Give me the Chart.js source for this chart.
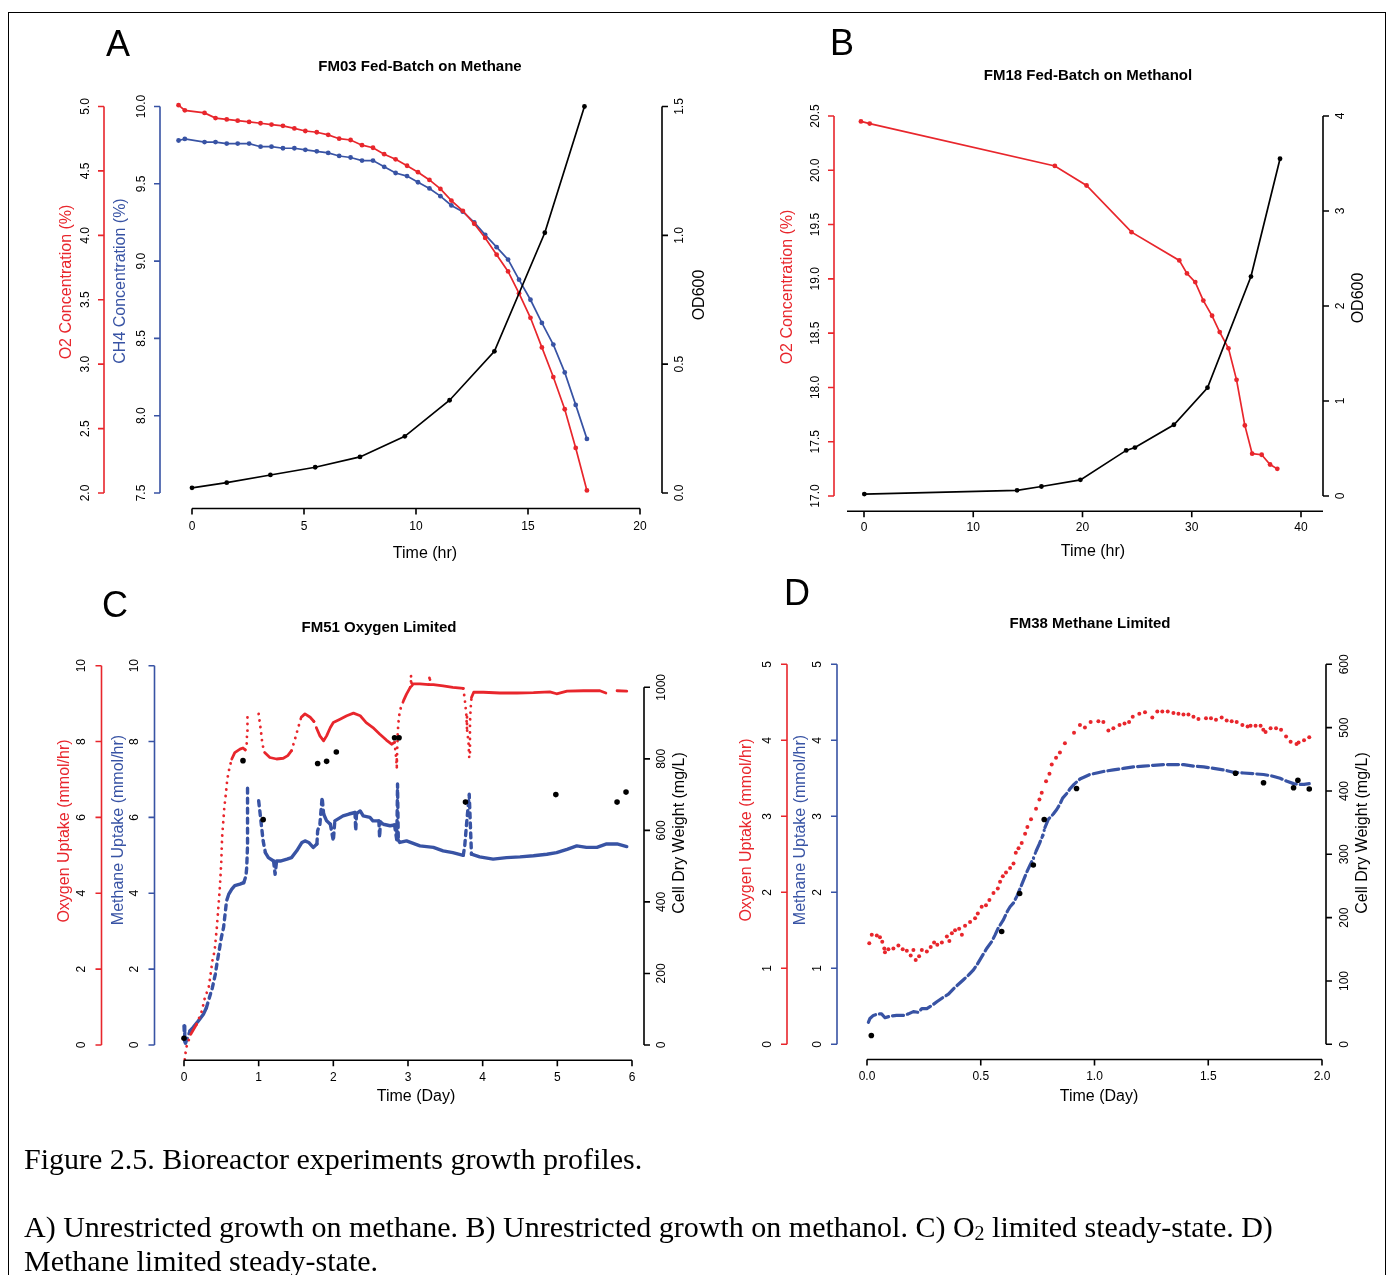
<!DOCTYPE html>
<html>
<head>
<meta charset="utf-8">
<script src="https://cdn.jsdelivr.net/npm/chart.js@4.4.0/dist/chart.umd.min.js"></script>
<style>
  html, body { margin: 0; padding: 0; background: #fff; }
  body { width: 1393px; height: 1275px; position: relative; overflow: hidden; }
  canvas { position: absolute; left: 0; top: 0; }
  #frame { position: absolute; left: 8px; top: 12px; width: 1378px; height: 1320px;
           border: 1.5px solid #000; box-sizing: border-box; }
  .cap { position: absolute; left: 24px; font-family: "Liberation Serif", "Times New Roman", serif;
         font-size: 30px; line-height: 30px; color: #000; white-space: nowrap; }
  .cap sub { font-size: 20px; vertical-align: -3px; line-height: 0; }
</style>
</head>
<body>
<div id="frame"></div>
<canvas id="cA" width="1393" height="1275"></canvas>
<canvas id="cB" width="1393" height="1275"></canvas>
<canvas id="cC" width="1393" height="1275"></canvas>
<canvas id="cD" width="1393" height="1275"></canvas>
<div class="cap" style="top:1144px">Figure 2.5. Bioreactor experiments growth profiles.</div>
<div class="cap" style="top:1212px">A) Unrestricted growth on methane. B) Unrestricted growth on methanol. C) O<sub>2</sub> limited steady-state. D)</div>
<div class="cap" style="top:1246px">Methane limited steady-state.</div>

<script>
// ---------- data ----------

// A: FM03 fed-batch on methane (hours)
const aGasHr = [-0.60,-0.32,0.56,1.05,1.55,2.04,2.55,3.06,3.55,4.06,4.57,5.06,5.57,6.08,6.57,7.08,7.59,8.08,8.58,
                9.09,9.60,10.09,10.60,11.09,11.58,12.09,12.60,13.09,13.60,14.11,14.60,15.11,15.62,16.13,16.64,17.13,17.63];
const aO2 = [5.01,4.97,4.95,4.91,4.90,4.89,4.88,4.87,4.86,4.85,4.83,4.81,4.80,4.78,4.75,4.74,4.70,4.68,4.63,
             4.59,4.54,4.49,4.43,4.36,4.27,4.19,4.09,3.98,3.85,3.72,3.55,3.36,3.13,2.90,2.65,2.35,2.02];
const aCH4 = [9.78,9.79,9.77,9.77,9.76,9.76,9.76,9.74,9.74,9.73,9.73,9.72,9.71,9.70,9.68,9.67,9.65,9.65,9.61,
              9.57,9.55,9.51,9.47,9.42,9.36,9.32,9.25,9.17,9.09,9.01,8.88,8.75,8.60,8.46,8.28,8.07,7.85];
const aOdHr = [0,1.55,3.5,5.5,7.5,9.5,11.5,13.5,15.75,17.52];
const aOd = [0.02,0.04,0.07,0.10,0.14,0.22,0.36,0.55,1.01,1.50];

// B: FM18 fed-batch on methanol (hours)
const bO2Hr = [-0.28,0.52,17.47,20.37,24.49,28.86,29.56,30.32,31.06,31.86,32.56,33.36,34.10,34.86,35.53,36.40,37.17,37.83];
const bO2 = [20.45,20.43,20.04,19.86,19.43,19.17,19.05,18.97,18.80,18.66,18.51,18.36,18.07,17.65,17.39,17.38,17.29,17.25];
const bOdHr = [0.03,14.01,16.24,19.81,24.00,24.80,28.37,31.44,35.42,38.08];
const bOd = [0.02,0.06,0.10,0.17,0.48,0.51,0.75,1.14,2.31,3.55];

// C: FM51 oxygen limited (days); null = logging gap
const cO2Day = [0.01,0.03,0.09,0.17,0.24,0.28,0.33,0.35,0.38,0.41,
                0.44,0.46,0.48,0.50,0.51,0.54,0.56,0.58,0.61,0.64,
                0.68,0.75,0.79,0.82,0.84,0.845,0.85,0.92,1.00,1.03,
                1.05,1.08,1.15,1.24,1.33,1.39,1.44,1.48,1.53,1.57,
                1.62,1.69,1.74,1.78,1.82,1.87,1.91,1.96,2.00,2.09,
                2.18,2.27,2.36,2.44,2.53,2.62,2.71,2.78,2.82,2.84,
                2.85,2.86,2.87,2.89,2.94,2.98,3.03,3.04,3.05,3.07,
                3.16,3.28,3.29,3.30,3.34,3.47,3.60,3.74,3.76,3.78,
                3.79,3.81,3.82,3.83,3.84,3.85,3.88,4.01,4.23,4.46,
                4.68,4.90,4.99,5.13,5.35,5.57,5.65,5.72,5.80,5.93];
const cO2 = [-0.38,-0.07,0.28,0.55,0.90,1.25,1.51,1.78,2.22,2.48,
             3.10,3.62,4.15,4.85,5.47,6.26,6.61,7.01,7.32,7.54,
             7.71,7.80,7.83,7.78,7.93,8.28,8.73,null,8.73,8.28,
             7.93,7.71,7.58,7.54,7.56,7.63,7.76,8.02,8.37,8.64,
             8.73,8.64,8.53,8.33,8.15,8.02,8.15,8.37,8.50,8.59,
             8.68,8.75,8.68,8.50,8.37,8.20,8.04,7.93,7.98,7.60,
             7.32,8.10,8.46,8.81,9.08,9.25,9.43,9.74,9.47,9.52,
             9.52,9.50,9.74,9.50,9.50,9.47,9.43,9.40,9.12,8.73,
             8.33,7.98,7.58,8.50,8.90,9.16,9.30,9.30,9.28,9.28,
             9.29,9.31,9.26,9.33,9.34,9.34,9.28,null,9.34,9.33];
const cCH4Day = [0.00,0.01,0.02,0.08,0.12,0.19,0.26,0.30,0.34,0.38,
                 0.42,0.44,0.47,0.50,0.53,0.55,0.57,0.60,0.64,0.68,
                 0.75,0.80,0.83,0.84,0.85,0.851,0.92,1.00,1.02,1.04,
                 1.06,1.09,1.13,1.20,1.22,1.24,1.29,1.38,1.44,1.51,
                 1.58,1.62,1.67,1.73,1.78,1.79,1.82,1.85,1.87,1.91,
                 1.96,2.00,2.02,2.13,2.21,2.29,2.30,2.31,2.36,2.40,
                 2.49,2.53,2.61,2.62,2.63,2.67,2.76,2.82,2.85,2.86,
                 2.87,2.89,2.98,3.16,3.34,3.47,3.60,3.74,3.76,3.78,
                 3.80,3.82,3.85,3.96,4.14,4.32,4.50,4.68,4.86,4.99,
                 5.13,5.26,5.39,5.53,5.66,5.80,5.93];
const cCH4 = [0.50,0.10,0.05,0.37,0.46,0.63,0.81,0.98,1.25,1.51,
              1.87,2.13,2.48,2.83,3.10,3.45,3.80,3.98,4.11,4.20,
              4.24,4.28,4.46,4.68,5.21,6.78,null,6.44,6.09,5.73,
              5.38,5.07,4.94,4.85,4.50,4.85,4.85,4.90,4.94,5.12,
              5.34,5.38,5.34,5.21,5.30,5.65,5.82,6.53,6.09,5.91,
              5.82,5.38,5.91,6.04,6.09,6.13,5.65,6.10,6.17,6.04,
              6.00,5.91,5.91,5.47,5.88,5.82,5.78,5.80,5.40,6.88,
              5.40,5.34,5.38,5.25,5.21,5.12,5.07,5.00,5.25,5.73,
              6.17,6.61,5.03,4.96,4.90,4.94,4.96,4.99,5.03,5.07,
              5.16,5.25,5.21,5.21,5.30,5.30,5.23];
const cCdwDay = [0.00,0.79,1.06,1.79,1.91,2.04,2.82,2.88,3.77,4.98,5.80,5.92];
const cCdw = [19,795,630,787,793,819,859,859,679,700,679,707];

// D: FM38 methane limited (days)
const dO2Day = [0.010,0.021,0.043,0.057,0.067,0.076,0.079,0.094,0.116,0.138,
                0.157,0.175,0.192,0.204,0.214,0.229,0.241,0.263,0.280,0.295,
                0.309,0.329,0.351,0.362,0.373,0.387,0.405,0.417,0.431,0.453,
                0.475,0.487,0.504,0.523,0.538,0.556,0.575,0.585,0.597,0.611,
                0.629,0.644,0.654,0.666,0.680,0.695,0.705,0.721,0.743,0.758,
                0.768,0.787,0.802,0.812,0.831,0.848,0.870,0.910,0.936,0.958,
                0.983,1.017,1.039,1.061,1.083,1.110,1.132,1.152,1.168,1.197,
                1.222,1.254,1.276,1.298,1.322,1.347,1.369,1.391,1.413,1.435,
                1.457,1.490,1.512,1.534,1.559,1.581,1.603,1.625,1.650,1.673,
                1.686,1.708,1.730,1.742,1.752,1.774,1.798,1.820,1.842,1.862,
                1.888,1.897,1.921,1.944];
const dO2 = [1.33,1.44,1.43,1.41,1.35,1.26,1.21,1.25,1.26,1.30,
             1.25,1.23,1.17,1.24,1.11,1.16,1.24,1.22,1.28,1.34,
             1.31,1.34,1.42,1.36,1.46,1.50,1.52,1.44,1.56,1.61,
             1.66,1.72,1.81,1.83,1.90,1.99,2.05,2.14,2.21,2.26,
             2.32,2.38,2.52,2.58,2.65,2.77,2.86,2.96,3.10,3.22,
             3.31,3.46,3.56,3.68,3.77,3.84,3.96,4.10,4.20,4.17,
             4.24,4.25,4.24,4.13,4.16,4.20,4.22,4.24,4.31,4.35,
             4.37,4.30,4.38,4.38,4.38,4.36,4.35,4.34,4.34,4.31,
             4.28,4.29,4.29,4.27,4.30,4.26,4.25,4.24,4.20,4.18,
             4.19,4.19,4.19,4.14,4.11,4.16,4.16,4.14,4.05,3.98,
             3.95,3.97,4.00,4.04];
const dCH4Day = [0.006,0.013,0.028,0.050,0.064,0.079,0.101,0.130,0.160,0.182,
                 0.204,0.226,0.241,0.263,0.285,0.307,0.336,0.358,0.380,0.402,
                 0.424,0.446,0.468,0.482,0.504,0.526,0.548,0.563,0.577,0.600,
                 0.617,0.629,0.644,0.659,0.673,0.688,0.703,0.717,0.732,0.743,
                 0.758,0.773,0.782,0.797,0.819,0.834,0.848,0.860,0.878,0.892,
                 0.910,0.936,0.958,0.980,1.010,1.039,1.083,1.127,1.171,1.215,
                 1.259,1.303,1.347,1.392,1.436,1.480,1.524,1.567,1.611,1.655,
                 1.699,1.743,1.780,1.816,1.846,1.875,1.897,1.921,1.944];
const dCH4 = [0.29,0.34,0.38,0.40,0.40,0.35,0.37,0.38,0.38,0.40,
              0.43,0.42,0.47,0.47,0.51,0.56,0.62,0.66,0.73,0.79,
              0.85,0.91,0.98,1.04,1.15,1.26,1.35,1.44,1.53,1.64,
              1.75,1.81,1.86,1.95,2.05,2.16,2.27,2.36,2.45,2.54,
              2.64,2.75,2.85,2.96,3.03,3.09,3.16,3.24,3.30,3.36,
              3.42,3.49,3.52,3.55,3.57,3.59,3.61,3.63,3.65,3.66,
              3.67,3.68,3.68,3.68,3.66,3.65,3.63,3.61,3.58,3.57,
              3.56,3.55,3.53,3.50,3.46,3.43,3.42,3.42,3.43];
const dCdwDay = [0.019,0.592,0.671,0.731,0.779,0.921,1.620,1.743,1.875,1.894,1.944];
const dCdw = [14,178,238,283,355,404,428,413,405,417,403];

// tick values / labels
const aTimeTicks = [0,5,10,15,20];
const aO2Ticks = [2.0,2.5,3.0,3.5,4.0,4.5,5.0];
const aCH4Ticks = [7.5,8.0,8.5,9.0,9.5,10.0];
const aOdTicks = [0,0.5,1.0,1.5];
const bTimeTicks = [0,10,20,30,40];
const bO2Ticks = [17.0,17.5,18.0,18.5,19.0,19.5,20.0,20.5];
const bOdTicks = [0,1,2,3,4];
const cDayTicks = [0,1,2,3,4,5,6];
const cUptakeTicks = [0,2,4,6,8,10];
const cCdwTicks = [0,200,400,600,800,1000];
const dDayTicks = [0,0.5,1.0,1.5,2.0];
const dUptakeTicks = [0,1,2,3,4,5];
const dCdwTicks = [0,100,200,300,400,500,600];

// ---------- helpers ----------
const RED = '#E8262C', BLUE = '#3853A4', BLACK = '#000000';
const FONT = '"Liberation Sans", Arial, Helvetica, sans-serif';
const W = 1393, H = 1275, TICK = 6;

const pts = (xs, ys) => xs.map((x, i) => ({ x: x, y: ys[i] }));
const fix1 = v => v.toFixed(1);
const plain = v => String(v);

// value range of a scale so that tick lo sits at pixel pLo and hi at pHi, for a plot edge a..b
function span(lo, hi, pLo, pHi, a, b) {
  const k = (hi - lo) / (pHi - pLo);
  return { min: lo + (a - pLo) * k, max: lo + (b - pLo) * k };
}

// dotted where the trace is steep (sparse samples), solid/dashed otherwise
function steepDash(dots, flat) {
  return ctx => {
    const dx = Math.abs(ctx.p1.x - ctx.p0.x), dy = Math.abs(ctx.p1.y - ctx.p0.y);
    return (dy > 2.5 * dx && dy > 5) ? dots : flat;
  };
}

function drawAxis(chart, ctx, ax) {
  const sc = chart.scales[ax.scale];
  const px = ax.ticks.map(v => sc.getPixelForValue(v));
  ctx.strokeStyle = ax.color;
  ctx.lineWidth = 1.6;
  ctx.beginPath();
  if (ax.side === 'bottom') {
    const x0 = ax.full ? chart.chartArea.left : px[0];
    const x1 = ax.full ? chart.chartArea.right : px[px.length - 1];
    ctx.moveTo(x0, ax.at); ctx.lineTo(x1, ax.at);
    px.forEach(p => { ctx.moveTo(p, ax.at); ctx.lineTo(p, ax.at + TICK); });
  } else {
    const dir = ax.side === 'left' ? -1 : 1;
    ctx.moveTo(ax.at, px[0]); ctx.lineTo(ax.at, px[px.length - 1]);
    px.forEach(p => { ctx.moveTo(ax.at, p); ctx.lineTo(ax.at + dir * TICK, p); });
  }
  ctx.stroke();

  ctx.fillStyle = '#000';
  ctx.font = '12px ' + FONT;
  ctx.textAlign = 'center';
  ctx.textBaseline = 'middle';
  ax.ticks.forEach((v, i) => {
    const lab = ax.fmt(v);
    if (ax.side === 'bottom') {
      ctx.fillText(lab, px[i], ax.labelAt);
    } else {
      ctx.save(); ctx.translate(ax.labelAt, px[i]); ctx.rotate(-Math.PI / 2);
      ctx.fillText(lab, 0, 0); ctx.restore();
    }
  });

  ctx.fillStyle = ax.titleColor || '#000';
  ctx.font = '16px ' + FONT;
  if (ax.side === 'bottom') {
    ctx.fillText(ax.title, ax.titleX, ax.titleY);
  } else {
    ctx.save(); ctx.translate(ax.titleX, ax.titleY); ctx.rotate(-Math.PI / 2);
    ctx.fillText(ax.title, 0, 0); ctx.restore();
  }
}

function rAxes(spec) {
  return {
    id: 'rAxes',
    afterDatasetsDraw(chart) {
      const ctx = chart.ctx;
      ctx.save();
      spec.axes.forEach(ax => drawAxis(chart, ctx, ax));
      ctx.textAlign = 'center';
      ctx.textBaseline = 'middle';
      ctx.fillStyle = '#000';
      ctx.font = '36px ' + FONT;
      ctx.fillText(spec.letter[0], spec.letter[1], spec.letter[2]);
      ctx.font = 'bold 15px ' + FONT;
      ctx.fillText(spec.title[0], spec.title[1], spec.title[2]);
      ctx.restore();
    }
  };
}

function makePanel(id, area, scales, datasets, spec) {
  const sc = {};
  Object.keys(scales).forEach(k => {
    sc[k] = Object.assign({ type: 'linear', display: false }, scales[k]);
  });
  return new Chart(document.getElementById(id), {
    type: 'line',
    data: { datasets: datasets },
    options: {
      responsive: false,
      animation: false,
      events: [],
      layout: { padding: { left: area.L, top: area.T, right: W - area.R, bottom: H - area.B } },
      plugins: { legend: { display: false }, tooltip: { enabled: false }, title: { display: false } },
      scales: sc
    },
    plugins: [rAxes(spec)]
  });
}

const lineSet = (data, axis, color) => ({
  data: data, yAxisID: axis, borderColor: color, backgroundColor: color,
  pointBackgroundColor: color, pointBorderWidth: 0, pointRadius: 2.4,
  borderWidth: 1.7, tension: 0, clip: false
});
const dotSet = (data, axis, color, r) => ({
  data: data, yAxisID: axis, showLine: false, backgroundColor: color,
  pointBackgroundColor: color, pointBorderWidth: 0, pointRadius: r, clip: false
});

// ---------- Panel A ----------
const areaA = { L: 174, T: 91, R: 662, B: 508.5 };
makePanel('cA', areaA, {
  x:    span(0, 20, 192, 640, areaA.L, areaA.R),
  yO2:  span(2.0, 5.0, 493, 106.5, areaA.B, areaA.T),
  yCH4: span(7.5, 10.0, 493, 106.5, areaA.B, areaA.T),
  yOD:  span(0, 1.5, 493, 106.5, areaA.B, areaA.T)
}, [
  lineSet(pts(aOdHr, aOd), 'yOD', BLACK),
  lineSet(pts(aGasHr, aO2), 'yO2', RED),
  lineSet(pts(aGasHr, aCH4), 'yCH4', BLUE)
], {
  letter: ['A', 118, 46], title: ['FM03 Fed-Batch on Methane', 420, 67],
  axes: [
    { scale: 'x', side: 'bottom', at: areaA.B, ticks: aTimeTicks, fmt: plain, color: BLACK,
      labelAt: 527, title: 'Time (hr)', titleX: 425, titleY: 554 },
    { scale: 'yO2', side: 'left', at: 104, ticks: aO2Ticks, fmt: fix1, color: RED,
      labelAt: 86, title: 'O2 Concentration (%)', titleX: 67, titleY: 282, titleColor: RED },
    { scale: 'yCH4', side: 'left', at: 160, ticks: aCH4Ticks, fmt: fix1, color: BLUE,
      labelAt: 142, title: 'CH4 Concentration (%)', titleX: 121, titleY: 281, titleColor: BLUE },
    { scale: 'yOD', side: 'right', at: areaA.R, ticks: aOdTicks, fmt: fix1, color: BLACK,
      labelAt: 680, title: 'OD600', titleX: 700, titleY: 295 }
  ]
});

// ---------- Panel B ----------
const areaB = { L: 847, T: 100.8, R: 1323, B: 511.2 };
makePanel('cB', areaB, {
  x:   span(0, 40, 864, 1301, areaB.L, areaB.R),
  yO2: span(17.0, 20.5, 496, 116, areaB.B, areaB.T),
  yOD: span(0, 4, 496, 116, areaB.B, areaB.T)
}, [
  lineSet(pts(bOdHr, bOd), 'yOD', BLACK),
  lineSet(pts(bO2Hr, bO2), 'yO2', RED)
], {
  letter: ['B', 842, 45], title: ['FM18 Fed-Batch on Methanol', 1088, 76],
  axes: [
    { scale: 'x', side: 'bottom', at: areaB.B, full: true, ticks: bTimeTicks, fmt: plain, color: BLACK,
      labelAt: 528, title: 'Time (hr)', titleX: 1093, titleY: 552 },
    { scale: 'yO2', side: 'left', at: 834, ticks: bO2Ticks, fmt: fix1, color: RED,
      labelAt: 815.5, title: 'O2 Concentration (%)', titleX: 788, titleY: 287, titleColor: RED },
    { scale: 'yOD', side: 'right', at: areaB.R, ticks: bOdTicks, fmt: plain, color: BLACK,
      labelAt: 1341, title: 'OD600', titleX: 1359, titleY: 298 }
  ]
});

// ---------- Panel C ----------
const areaC = { L: 166, T: 650.5, R: 644, B: 1060.2 };
makePanel('cC', areaC, {
  x:    span(0, 6, 184, 632, areaC.L, areaC.R),
  yO2:  span(0, 10, 1045, 665.7, areaC.B, areaC.T),
  yCH4: span(0, 10, 1045, 665.7, areaC.B, areaC.T),
  yCDW: span(0, 1000, 1045, 687.3, areaC.B, areaC.T)
}, [
  dotSet(pts(cCdwDay, cCdw), 'yCDW', BLACK, 2.8),
  { data: pts(cO2Day, cO2), yAxisID: 'yO2', borderColor: RED, borderWidth: 2.8, pointRadius: 0,
    borderCapStyle: 'round', borderJoinStyle: 'round', clip: false,
    segment: { borderDash: steepDash([0.1, 6.5], []) } },
  { data: pts(cCH4Day, cCH4), yAxisID: 'yCH4', borderColor: BLUE, borderWidth: 3.4, pointRadius: 0,
    borderCapStyle: 'round', borderJoinStyle: 'round', clip: false,
    segment: { borderDash: steepDash([5, 5], []) } }
], {
  letter: ['C', 115, 607], title: ['FM51 Oxygen Limited', 379, 628],
  axes: [
    { scale: 'x', side: 'bottom', at: areaC.B, ticks: cDayTicks, fmt: plain, color: BLACK,
      labelAt: 1078, title: 'Time (Day)', titleX: 416, titleY: 1097 },
    { scale: 'yO2', side: 'left', at: 101.5, ticks: cUptakeTicks, fmt: plain, color: RED,
      labelAt: 82, title: 'Oxygen Uptake (mmol/hr)', titleX: 65, titleY: 831, titleColor: RED },
    { scale: 'yCH4', side: 'left', at: 154.5, ticks: cUptakeTicks, fmt: plain, color: BLUE,
      labelAt: 134.5, title: 'Methane Uptake (mmol/hr)', titleX: 118.5, titleY: 830, titleColor: BLUE },
    { scale: 'yCDW', side: 'right', at: areaC.R, ticks: cCdwTicks, fmt: plain, color: BLACK,
      labelAt: 662, title: 'Cell Dry Weight (mg/L)', titleX: 680, titleY: 833 }
  ]
});

// ---------- Panel D ----------
const areaD = { L: 852, T: 649.1, R: 1326, B: 1059.5 };
makePanel('cD', areaD, {
  x:    span(0, 2, 867, 1322, areaD.L, areaD.R),
  yO2:  span(0, 5, 1044.3, 664.3, areaD.B, areaD.T),
  yCH4: span(0, 5, 1044.3, 664.3, areaD.B, areaD.T),
  yCDW: span(0, 600, 1044.3, 664.3, areaD.B, areaD.T)
}, [
  dotSet(pts(dCdwDay, dCdw), 'yCDW', BLACK, 2.8),
  dotSet(pts(dO2Day, dO2), 'yO2', RED, 2.0),
  { data: pts(dCH4Day, dCH4), yAxisID: 'yCH4', borderColor: BLUE, borderWidth: 3.2, pointRadius: 0,
    borderCapStyle: 'round', borderJoinStyle: 'round', clip: false,
    segment: { borderDash: steepDash([0.1, 5], [11, 4]) } }
], {
  letter: ['D', 797, 595], title: ['FM38 Methane Limited', 1090, 624],
  axes: [
    { scale: 'x', side: 'bottom', at: areaD.B, ticks: dDayTicks, fmt: fix1, color: BLACK,
      labelAt: 1077, title: 'Time (Day)', titleX: 1099, titleY: 1097 },
    { scale: 'yO2', side: 'left', at: 787, ticks: dUptakeTicks, fmt: plain, color: RED,
      labelAt: 768, title: 'Oxygen Uptake (mmol/hr)', titleX: 747, titleY: 830, titleColor: RED },
    { scale: 'yCH4', side: 'left', at: 837, ticks: dUptakeTicks, fmt: plain, color: BLUE,
      labelAt: 818, title: 'Methane Uptake (mmol/hr)', titleX: 801, titleY: 830, titleColor: BLUE },
    { scale: 'yCDW', side: 'right', at: areaD.R, ticks: dCdwTicks, fmt: plain, color: BLACK,
      labelAt: 1345, title: 'Cell Dry Weight (mg/L)', titleX: 1363, titleY: 833 }
  ]
});
</script>
</body>
</html>
